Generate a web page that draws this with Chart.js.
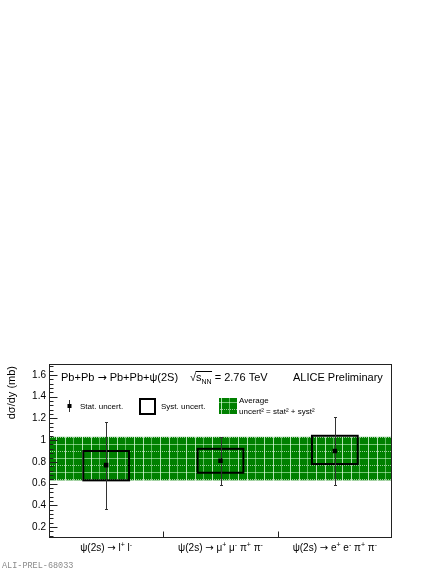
<!DOCTYPE html>
<html>
<head>
<meta charset="utf-8">
<script src="https://cdn.jsdelivr.net/npm/chart.js@4"></script>
<style>
  html, body { margin: 0; padding: 0; background: #fff; }
  #wrap { width: 441px; height: 571px; position: relative; }
</style>
</head>
<body>
<div id="wrap"><canvas id="c" width="441" height="571"></canvas></div>
<script>
// ---- data ----
const categories = ['ψ(2s) → l⁺ l⁻', 'ψ(2s) → μ⁺ μ⁻ π⁺ π⁻', 'ψ(2s) → e⁺ e⁻ π⁺ π⁻'];
const crossSection = [0.77, 0.81, 0.90];
const statLow = [0.37, 0.59, 0.59];
const statHigh = [1.17, 1.03, 1.21];
const systLow = [0.63, 0.70, 0.78];
const systHigh = [0.90, 0.92, 1.04];
const averageBand = [0.63, 1.03];
const yTickValues = [0.2, 0.4, 0.6, 0.8, 1.0, 1.2, 1.4, 1.6];
const yRange = [0.1, 1.7];

const FONT = "'Liberation Sans', Arial, Helvetica, sans-serif";
const ARROW_FONT = "'DejaVu Sans', sans-serif";

function makePattern(ctx) {
  const t = document.createElement('canvas');
  t.width = 26; t.height = 14;
  const p = t.getContext('2d');
  p.fillStyle = '#008000';
  p.fillRect(0, 0, 26, 14);
  // dotted horizontal line
  p.fillStyle = 'rgba(255,255,255,0.6)';
  for (let x = 0; x < 26; x += 2) p.fillRect(x, 3, 1, 1);
  // solid horizontal line
  p.fillStyle = 'rgba(210,255,210,0.55)';
  p.fillRect(0, 10, 26, 1);
  // vertical lines
  p.fillStyle = 'rgba(235,255,235,0.75)';
  p.fillRect(4, 0, 1, 14);
  p.fillRect(13, 0, 1, 14);
  p.fillStyle = 'rgba(220,255,220,0.45)';
  p.fillRect(21, 0, 1, 14);
  return ctx.createPattern(t, 'repeat');
}

// draw text made of [string, font, dy] segments, centred or left-aligned
function drawSegments(ctx, segs, x, y, align) {
  let total = 0;
  for (const s of segs) { ctx.font = s[1]; total += ctx.measureText(s[0]).width; }
  let cx = align === 'center' ? x - total / 2 : x;
  ctx.textAlign = 'left';
  for (const s of segs) {
    ctx.font = s[1];
    ctx.fillText(s[0], cx, y + (s[2] || 0));
    cx += ctx.measureText(s[0]).width;
  }
}

const N10 = '10px ' + FONT, S7 = '7px ' + FONT, A10 = '10px ' + ARROW_FONT;
const xLabelSegments = [
  [['ψ(2s) ', N10], ['→', A10], [' l', N10], ['+', S7, -3], [' l', N10], ['-', S7, -3]],
  [['ψ(2s) ', N10], ['→', A10], [' μ', N10], ['+', S7, -3], [' μ', N10], ['-', S7, -3], [' π', N10], ['+', S7, -3], [' π', N10], ['-', S7, -3]],
  [['ψ(2s) ', N10], ['→', A10], [' e', N10], ['+', S7, -3], [' e', N10], ['-', S7, -3], [' π', N10], ['+', S7, -3], [' π', N10], ['-', S7, -3]]
];

const rootPlugin = {
  id: 'rootStyle',
  beforeDatasetsDraw(chart) {
    const ctx = chart.ctx, a = chart.chartArea;
    const x = chart.scales.x, y = chart.scales.y;
    ctx.save();
    // average band
    const yt = y.getPixelForValue(averageBand[1]);
    const yb = y.getPixelForValue(averageBand[0]);
    ctx.fillStyle = makePattern(ctx);
    ctx.fillRect(a.left, yt, a.right - a.left, yb - yt);
    // systematic boxes
    const cw = x.getPixelForValue(1) - x.getPixelForValue(0);
    ctx.strokeStyle = '#000';
    ctx.lineWidth = 2;
    for (let i = 0; i < categories.length; i++) {
      const cx = x.getPixelForValue(i);
      const t = y.getPixelForValue(systHigh[i]);
      const b = y.getPixelForValue(systLow[i]);
      ctx.strokeRect(cx - 0.2 * cw, t, 0.4 * cw, b - t);
    }
    // statistical error bars
    ctx.strokeStyle = '#333';
    ctx.lineWidth = 1;
    for (let i = 0; i < categories.length; i++) {
      const cx = Math.round(x.getPixelForValue(i)) + 0.5;
      const t = Math.round(y.getPixelForValue(statHigh[i])) + 0.5;
      const b = Math.round(y.getPixelForValue(statLow[i])) + 0.5;
      ctx.beginPath();
      ctx.moveTo(cx, t); ctx.lineTo(cx, b);
      ctx.moveTo(cx - 1.5, t); ctx.lineTo(cx + 1.5, t);
      ctx.moveTo(cx - 1.5, b); ctx.lineTo(cx + 1.5, b);
      ctx.stroke();
    }
    ctx.restore();
  },
  afterDraw(chart) {
    const ctx = chart.ctx, a = chart.chartArea;
    const x = chart.scales.x, y = chart.scales.y;
    ctx.save();
    // frame
    ctx.strokeStyle = '#222';
    ctx.lineWidth = 1;
    const L = Math.round(a.left) + 0.5, R = Math.round(a.right) - 0.5;
    const T = Math.round(a.top) + 0.5, B = Math.round(a.bottom) - 0.5;
    ctx.strokeRect(L, T, R - L, B - T);
    // y ticks (inside the frame), major + 4 minor
    ctx.beginPath();
    for (let k = 0; k < yTickValues.length; k++) {
      const py = Math.round(y.getPixelForValue(yTickValues[k])) + 0.5;
      ctx.moveTo(L, py); ctx.lineTo(L + 8, py);
    }
    for (let v = 0.12; v < yRange[1]; v += 0.04) {
      const r = Math.round(v * 100) / 100;
      if (Math.abs(r * 5 - Math.round(r * 5)) < 1e-6) continue;
      const py = Math.round(y.getPixelForValue(r)) + 0.5;
      ctx.moveTo(L, py); ctx.lineTo(L + 4, py);
    }
    // x ticks at category boundaries
    for (let i = 0; i < categories.length - 1; i++) {
      const px = Math.round((x.getPixelForValue(i) + x.getPixelForValue(i + 1)) / 2) + 0.5;
      ctx.moveTo(px, B); ctx.lineTo(px, B - 6);
    }
    ctx.stroke();

    ctx.fillStyle = '#000';
    ctx.textBaseline = 'middle';
    // x category labels (positions from the category scale)
    for (let i = 0; i < categories.length; i++) {
      drawSegments(ctx, xLabelSegments[i], x.getPixelForValue(i), 548, 'center');
    }

    // y title
    ctx.save();
    ctx.translate(12, 366);
    ctx.rotate(-Math.PI / 2);
    ctx.font = '11px ' + FONT;
    ctx.textAlign = 'right';
    ctx.fillText('dσ/dy (mb)', 0, 0);
    ctx.restore();

    // header texts
    const N11 = '11px ' + FONT;
    drawSegments(ctx, [['Pb+Pb ', N11], ['→', '11px ' + ARROW_FONT], [' Pb+Pb+ψ(2S)', N11]], 61, 378, 'left');
    ctx.font = N11;
    let sx = 190;
    ctx.fillText('√', sx, 378);
    const sw = ctx.measureText('√').width;
    ctx.beginPath();
    ctx.moveTo(sx + sw - 0.5, 371.5);
    ctx.lineTo(sx + sw + 16, 371.5);
    ctx.strokeStyle = '#000';
    ctx.lineWidth = 1;
    ctx.stroke();
    ctx.fillText('s', sx + sw, 378);
    const ssw = ctx.measureText('s').width;
    ctx.font = '7px ' + FONT;
    ctx.fillText('NN', sx + sw + ssw, 382);
    const nnw = ctx.measureText('NN').width;
    ctx.font = N11;
    ctx.fillText(' = 2.76 TeV', sx + sw + ssw + nnw, 378);
    ctx.fillText('ALICE Preliminary', 293, 378);

    // legend
    ctx.strokeStyle = '#333';
    ctx.lineWidth = 1;
    ctx.beginPath();
    ctx.moveTo(69.5, 400); ctx.lineTo(69.5, 412);
    ctx.stroke();
    ctx.fillStyle = '#000';
    ctx.fillRect(67.5, 404, 4, 4);
    ctx.font = '8px ' + FONT;
    ctx.fillText('Stat. uncert.', 80, 406.5);
    ctx.lineWidth = 2;
    ctx.strokeStyle = '#000';
    ctx.strokeRect(140, 399, 15, 15);
    ctx.fillText('Syst. uncert.', 161, 406.5);
    ctx.fillStyle = makePattern(ctx);
    ctx.fillRect(219, 398, 18, 16);
    ctx.fillStyle = '#000';
    ctx.fillText('Average', 239, 401);
    ctx.fillText('uncert² = stat² + syst²', 239, 412);

    // footer id
    ctx.fillStyle = '#8a8a8a';
    ctx.font = '8.5px "Liberation Mono", "DejaVu Sans Mono", monospace';
    ctx.fillText('ALI-PREL-68033', 2, 566);
    ctx.restore();
  }
};

new Chart(document.getElementById('c'), {
  type: 'line',
  data: {
    labels: categories,
    datasets: [{
      label: 'dσ/dy',
      data: crossSection,
      showLine: false,
      pointStyle: 'rect',
      pointRadius: 3.2,
      pointHoverRadius: 3.2,
      backgroundColor: '#000',
      borderColor: '#000',
      borderWidth: 0
    }]
  },
  options: {
    responsive: false,
    animation: false,
    events: [],
    layout: { padding: { left: 0, right: 49, top: 364, bottom: 0 } },
    plugins: { legend: { display: false }, tooltip: { enabled: false } },
    scales: {
      x: {
        type: 'category',
        offset: true,
        grid: { display: false, drawTicks: false },
        border: { display: false },
        ticks: { display: false },
        afterFit(s) { s.height = 33; }
      },
      y: {
        min: yRange[0],
        max: yRange[1],
        grid: { display: false, drawTicks: false },
        border: { display: false },
        ticks: {
          color: '#000', font: { family: FONT, size: 10 }, padding: 3,
          callback: v => String(Math.round(v * 10) / 10)
        },
        afterBuildTicks(s) { s.ticks = yTickValues.map(v => ({ value: v })); },
        afterFit(s) { s.width = 49; }
      }
    }
  },
  plugins: [rootPlugin]
});
</script>
</body>
</html>
